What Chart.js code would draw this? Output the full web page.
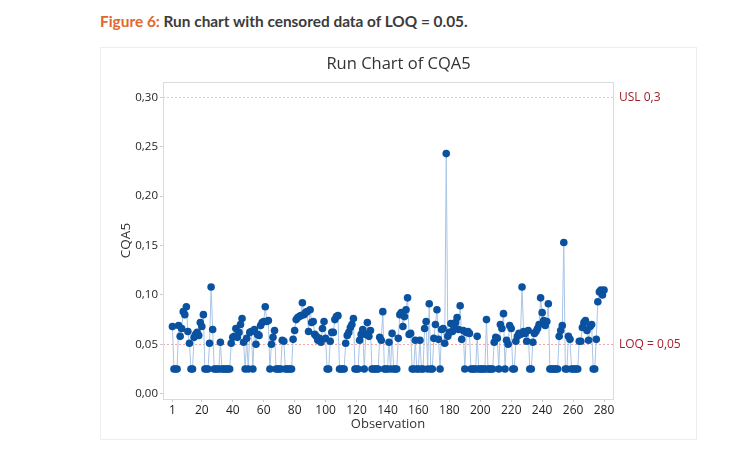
<!DOCTYPE html>
<html>
<head>
<meta charset="utf-8">
<script src="https://cdn.jsdelivr.net/npm/chart.js@4.4.1/dist/chart.umd.min.js"></script>
<style>
  body { margin: 0; background: #fff; width: 750px; height: 450px; position: relative; overflow: hidden; }
  #cap { position: absolute; left: 100px; top: 12px; font: 700 15.4px Lato, sans-serif; color: #3b3b3b; white-space: nowrap; }
  #cap span { color: #e2672d; }
  #panel { position: absolute; left: 100px; top: 47px; width: 597px; height: 393px; border: 1px solid #eeeeee; box-sizing: border-box; }
  #wrap { position: absolute; left: 100px; top: 47px; width: 597px; height: 393px; }
</style>
</head>
<body>
<div id="cap"><span>Figure 6:</span> Run chart with censored data of LOQ = 0.05.</div>
<div id="panel"></div>
<div id="wrap"><canvas id="grafico"></canvas></div>
<script>
// valores (0,025 = dato censurado, LOQ/2)
const cqa5 = [
  0.068, 0.025, 0.025, 0.025, 0.069, 0.058, 0.066, 0.083, 0.080, 0.088,
  0.063, 0.051, 0.025, 0.025, 0.057, 0.060, 0.062, 0.059, 0.072, 0.068,
  0.080, 0.025, 0.025, 0.025, 0.051, 0.108, 0.065, 0.025, 0.025, 0.025,
  0.025, 0.052, 0.025, 0.025, 0.025, 0.025, 0.025, 0.025, 0.051, 0.057,
  0.058, 0.066, 0.057, 0.062, 0.070, 0.076, 0.052, 0.025, 0.056, 0.025,
  0.062, 0.063, 0.025, 0.065, 0.050, 0.060, 0.059, 0.069, 0.072, 0.073,
  0.088, 0.073, 0.074, 0.025, 0.050, 0.057, 0.064, 0.025, 0.025, 0.025,
  0.025, 0.054, 0.053, 0.025, 0.025, 0.025, 0.025, 0.025, 0.055, 0.064,
  0.075, 0.077, 0.078, 0.079, 0.092, 0.080, 0.082, 0.083, 0.063, 0.085,
  0.072, 0.073, 0.060, 0.058, 0.054, 0.056, 0.052, 0.066, 0.073, 0.056,
  0.025, 0.025, 0.053, 0.062, 0.062, 0.075, 0.078, 0.079, 0.025, 0.025,
  0.025, 0.025, 0.051, 0.059, 0.062, 0.067, 0.070, 0.076, 0.025, 0.025,
  0.025, 0.054, 0.060, 0.065, 0.025, 0.060, 0.072, 0.058, 0.064, 0.025,
  0.025, 0.025, 0.025, 0.025, 0.057, 0.054, 0.083, 0.025, 0.025, 0.025,
  0.052, 0.025, 0.061, 0.025, 0.025, 0.025, 0.056, 0.080, 0.082, 0.068,
  0.078, 0.085, 0.097, 0.060, 0.061, 0.025, 0.025, 0.054, 0.025, 0.025,
  0.054, 0.025, 0.025, 0.066, 0.073, 0.025, 0.091, 0.025, 0.025, 0.056,
  0.070, 0.085, 0.055, 0.025, 0.065, 0.066, 0.051, 0.243, 0.058, 0.062,
  0.071, 0.063, 0.068, 0.072, 0.077, 0.065, 0.089, 0.055, 0.064, 0.025,
  0.062, 0.063, 0.061, 0.025, 0.025, 0.025, 0.025, 0.058, 0.025, 0.025,
  0.025, 0.025, 0.025, 0.075, 0.025, 0.025, 0.025, 0.025, 0.052, 0.057,
  0.056, 0.025, 0.070, 0.066, 0.081, 0.025, 0.054, 0.050, 0.069, 0.066,
  0.025, 0.025, 0.053, 0.058, 0.061, 0.060, 0.108, 0.063, 0.061, 0.053,
  0.064, 0.025, 0.025, 0.052, 0.061, 0.063, 0.066, 0.070, 0.097, 0.082,
  0.074, 0.069, 0.073, 0.091, 0.025, 0.025, 0.025, 0.025, 0.025, 0.025,
  0.058, 0.064, 0.069, 0.153, 0.025, 0.025, 0.058, 0.055, 0.025, 0.025,
  0.025, 0.025, 0.025, 0.053, 0.053, 0.067, 0.072, 0.074, 0.064, 0.054,
  0.068, 0.070, 0.025, 0.025, 0.055, 0.093, 0.103, 0.105, 0.100, 0.105
]
const xTicks = [1, 20, 40, 60, 80, 100, 120, 140, 160, 180, 200, 220, 240, 260, 280]
const yTicks = [0, 0.05, 0.10, 0.15, 0.20, 0.25, 0.30]
const refValues = [0.3, 0.05]
const refLabels = ['USL 0,3', 'LOQ = 0,05']
const titulo = 'Run Chart of CQA5'

const fuente = "'Open Sans', 'Noto Sans', sans-serif"
const puntos = cqa5.map((v, i) => ({ x: i + 1, y: v }))

// lineas de referencia, marco del area, titulo centrado y etiquetas a la derecha
const extras = {
  id: 'extras',
  beforeDatasetsDraw(chart) {
    const { ctx, chartArea: a, scales: { y } } = chart
    const colores = ['#efc9a6', '#f2a6a6']
    ctx.save()
    ctx.lineWidth = 1
    ctx.setLineDash([2, 2])
    refValues.forEach((v, i) => {
      const py = Math.round(y.getPixelForValue(v)) + 0.5
      ctx.strokeStyle = colores[i]
      ctx.beginPath()
      ctx.moveTo(a.left, py)
      ctx.lineTo(a.right, py)
      ctx.stroke()
    })
    ctx.restore()
  },
  afterDraw(chart) {
    const { ctx, chartArea: a, scales: { y } } = chart
    ctx.save()
    ctx.strokeStyle = '#d8dbe0'
    ctx.lineWidth = 1
    ctx.strokeRect(Math.round(a.left) + 0.5, Math.round(a.top) + 0.5, Math.round(a.right - a.left), Math.round(a.bottom - a.top))
    ctx.fillStyle = '#333'
    ctx.font = '16.5px ' + fuente
    ctx.textAlign = 'center'
    ctx.textBaseline = 'middle'
    ctx.fillText(titulo, chart.width / 2, 17)
    ctx.fillStyle = '#a3202b'
    ctx.font = '12px ' + fuente
    ctx.textAlign = 'left'
    refValues.forEach((v, i) => {
      ctx.fillText(refLabels[i], a.right + 6, y.getPixelForValue(v))
    })
    ctx.restore()
  }
}

const grafico = new Chart(document.getElementById('grafico'), {
  type: 'line',
  data: {
    datasets: [
      {
        label: 'CQA5',
        data: puntos,
        borderColor: '#a9c5e6',
        borderWidth: 1,
        pointRadius: 3.8,
        pointBackgroundColor: '#0a52a0',
        pointBorderColor: '#0a52a0',
        pointBorderWidth: 0,
        tension: 0,
      },
    ],
  },
  plugins: [extras],
  options: {
    responsive: true,
    maintainAspectRatio: false,
    animation: false,
    events: [],
    layout: {
      padding: { left: 18, right: 84, top: 35, bottom: 0 },
    },
    scales: {
      x: {
        type: 'linear',
        min: -5.1,
        max: 285.8,
        afterBuildTicks: (s) => { s.ticks = xTicks.map((v) => ({ value: v })) },
        afterFit: (s) => { s.height = 41 },
        grid: { display: true, drawOnChartArea: false, tickLength: 3, color: '#c8ccd2' },
        border: { color: '#d8dbe0' },
        ticks: { font: { family: fuente, size: 12 }, color: '#1e1e1e', padding: 1, maxRotation: 0, autoSkip: false },
        title: { display: true, text: 'Observation', font: { family: fuente, size: 13 }, color: '#333', padding: { top: 0, bottom: 8 } },
      },
      y: {
        min: -0.0054,
        max: 0.3155,
        afterBuildTicks: (s) => { s.ticks = yTicks.map((v) => ({ value: v })) },
        afterFit: (s) => { s.width = 45 },
        grid: { display: true, drawOnChartArea: false, tickLength: 3, color: '#c8ccd2' },
        border: { color: '#d8dbe0' },
        ticks: {
          font: { family: fuente, size: 11.5 },
          color: '#1e1e1e',
          padding: 2,
          callback: (v) => v.toFixed(2).replace('.', ','),
        },
        title: { display: true, text: 'CQA5', font: { family: fuente, size: 13.5 }, color: '#333', padding: 0 },
      },
    },
    plugins: {
      legend: { display: false },
      tooltip: { enabled: false },
      title: { display: false },
    },
  },
})
</script>
</body>
</html>
